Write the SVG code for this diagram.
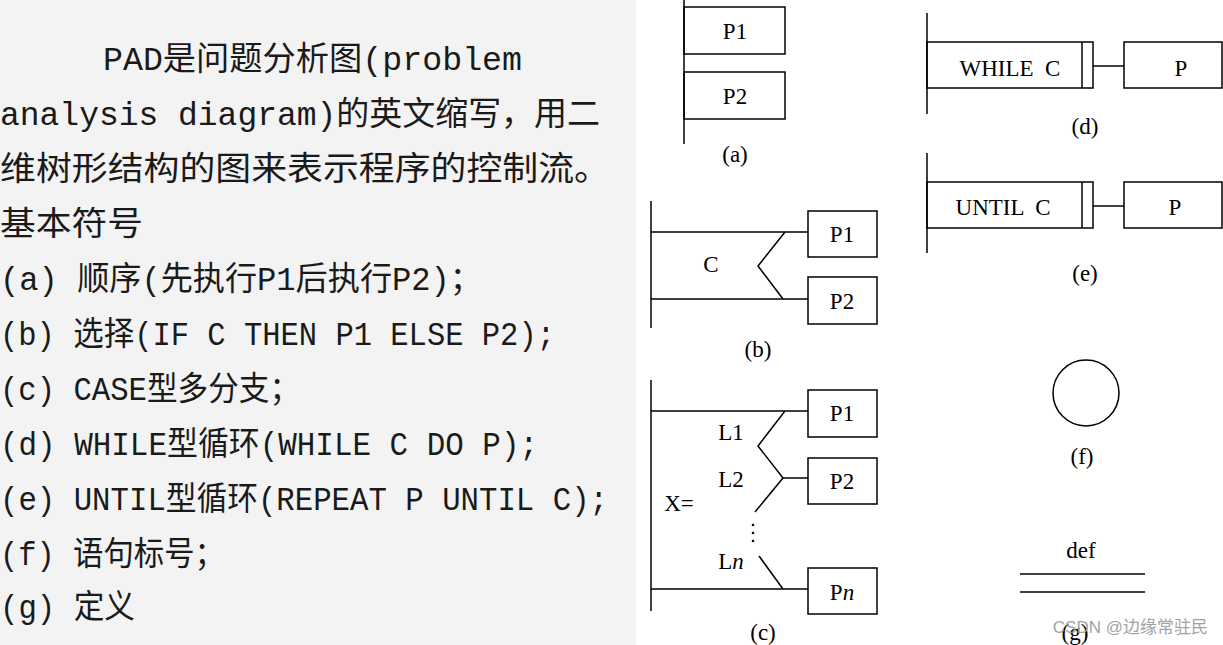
<svg xmlns="http://www.w3.org/2000/svg" width="1223" height="645" viewBox="0 0 1223 645">
<style>
.t{font-family:"Liberation Mono","Noto Sans CJK SC",monospace;font-size:33px;fill:#1a1a1a}
.s{fill:none;stroke:#000;stroke-width:1.5}
.d{font-family:"Liberation Serif",serif;font-size:23px;fill:#000;text-anchor:middle;white-space:pre}
</style>
<rect x="0" y="0" width="636" height="645" fill="#f3f3f3"/>
<rect x="636" y="0" width="587" height="645" fill="#fff"/>
<g id="text">
<text class="t" x="103" y="70" textLength="419" lengthAdjust="spacingAndGlyphs">PAD是问题分析图(problem</text>
<text class="t" x="0" y="125" textLength="600" lengthAdjust="spacingAndGlyphs">analysis diagram)的英文缩写，用二</text>
<text class="t" x="0" y="180" textLength="610" lengthAdjust="spacingAndGlyphs">维树形结构的图来表示程序的控制流。</text>
<text class="t" x="0" y="235" textLength="143" lengthAdjust="spacingAndGlyphs">基本符号</text>
<text class="t" x="0" y="290" textLength="482" lengthAdjust="spacingAndGlyphs">(a) 顺序(先执行P1后执行P2)；</text>
<text class="t" x="0" y="345" textLength="555" lengthAdjust="spacingAndGlyphs">(b) 选择(IF C THEN P1 ELSE P2);</text>
<text class="t" x="0" y="400" textLength="300" lengthAdjust="spacingAndGlyphs">(c) CASE型多分支；</text>
<text class="t" x="0" y="455" textLength="538" lengthAdjust="spacingAndGlyphs">(d) WHILE型循环(WHILE C DO P);</text>
<text class="t" x="0" y="510" textLength="608" lengthAdjust="spacingAndGlyphs">(e) UNTIL型循环(REPEAT P UNTIL C);</text>
<text class="t" x="0" y="565" textLength="225" lengthAdjust="spacingAndGlyphs">(f) 语句标号；</text>
<text class="t" x="0" y="618" textLength="135" lengthAdjust="spacingAndGlyphs">(g) 定义</text>
</g>
<g id="connectors">
<line class="s" x1="684" y1="0" x2="684" y2="144"/>
<line class="s" x1="651" y1="201" x2="651" y2="328"/>
<polyline class="s" points="651,232 808,232"/>
<polyline class="s" points="651,299 808,299"/>
<polyline class="s" points="785,232 758,266 783,299"/>
<line class="s" x1="651" y1="380" x2="651" y2="611"/>
<line class="s" x1="651" y1="411" x2="808" y2="411"/>
<polyline class="s" points="785,411 758,446 783,478"/>
<line class="s" x1="783" y1="478" x2="808" y2="478"/>
<line class="s" x1="783" y1="478" x2="755" y2="512"/>
<line class="s" x1="759" y1="556" x2="783" y2="589"/>
<line class="s" x1="651" y1="589" x2="808" y2="589"/>
<line class="s" x1="927" y1="13" x2="927" y2="114"/>
<line class="s" x1="1093" y1="66" x2="1124" y2="66"/>
<line class="s" x1="927" y1="153" x2="927" y2="253"/>
<line class="s" x1="1093" y1="206" x2="1124" y2="206"/>
</g>
<g id="a">
<rect class="s" x="684" y="7" width="101" height="47"/><text class="d" x="735" y="39">P1</text>
<rect class="s" x="684" y="72" width="101" height="47"/><text class="d" x="735" y="104">P2</text>
<text class="d" x="735" y="162">(a)</text>
</g>
<g id="b">
<rect class="s" x="808" y="211" width="69" height="46"/><text class="d" x="842" y="242">P1</text>
<rect class="s" x="808" y="277" width="69" height="47"/><text class="d" x="842" y="309">P2</text>
<text class="d" x="711" y="272">C</text>
<text class="d" x="758" y="357">(b)</text>
</g>
<g id="c">
<rect class="s" x="808" y="390" width="69" height="47"/><text class="d" x="842" y="421">P1</text>
<rect class="s" x="808" y="458" width="69" height="46"/><text class="d" x="842" y="489">P2</text>
<rect class="s" x="808" y="568" width="69" height="46"/><text class="d" x="842" y="600">P<tspan font-style="italic">n</tspan></text>
<text class="d" x="731" y="440">L1</text>
<text class="d" x="731" y="487">L2</text>
<text class="d" x="679" y="511">X=</text>
<text class="d" x="731" y="569">L<tspan font-style="italic">n</tspan></text>
<g fill="#000"><circle cx="753" cy="525" r="1.3"/><circle cx="753" cy="533" r="1.3"/><circle cx="753" cy="541" r="1.3"/></g>
<text class="d" x="763" y="640">(c)</text>
</g>
<g id="d">
<rect class="s" x="927" y="42" width="166" height="46"/><line class="s" x1="1082" y1="42" x2="1082" y2="88"/>
<text class="d" x="1010" y="76">WHILE  C</text>
<rect class="s" x="1124" y="42" width="98" height="46"/><text class="d" x="1181" y="76">P</text>
<text class="d" x="1085" y="134">(d)</text>
</g>
<g id="e">
<rect class="s" x="927" y="182" width="166" height="46"/><line class="s" x1="1082" y1="182" x2="1082" y2="228"/>
<text class="d" x="1003" y="215">UNTIL  C</text>
<rect class="s" x="1124" y="182" width="98" height="46"/><text class="d" x="1175" y="215">P</text>
<text class="d" x="1085" y="281">(e)</text>
</g>
<g id="f">
<circle class="s" cx="1086" cy="393" r="33"/>
<text class="d" x="1082" y="464">(f)</text>
</g>
<g id="g">
<text class="d" x="1081" y="558">def</text>
<line class="s" x1="1020" y1="574" x2="1145" y2="574"/>
<line class="s" x1="1020" y1="592" x2="1145" y2="592"/>
<text class="d" x="1075" y="640">(g)</text>
</g>
<text x="1208" y="633" text-anchor="end" font-family="Liberation Sans,'Noto Sans CJK SC',sans-serif" font-size="17" fill="#999" opacity="0.9">CSDN @边缘常驻民</text>
</svg>
